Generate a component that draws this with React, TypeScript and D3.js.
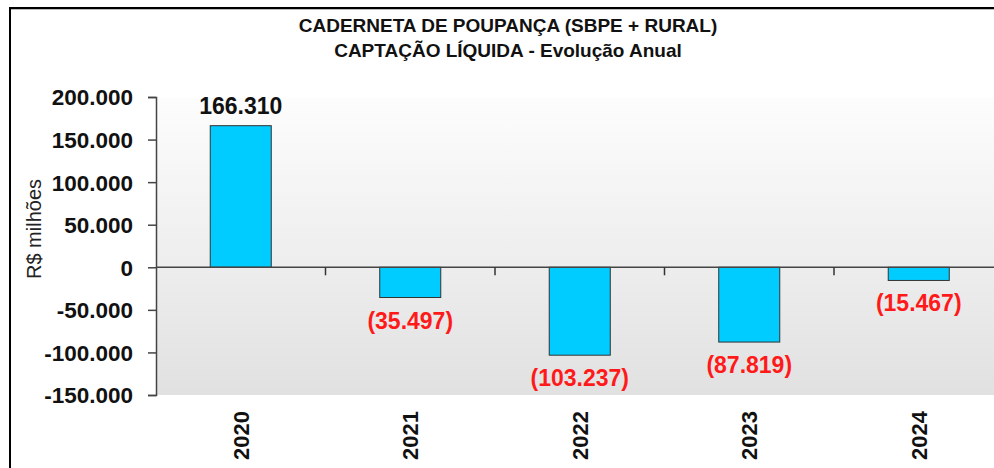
import * as d3 from "d3";
import { useEffect, useRef } from "react";

// data (R$ milhões)
const years = ["2020", "2021", "2022", "2023", "2024"];
const captacao = [166310, -35497, -103237, -87819, -15467];
const yTicks = [-150000, -100000, -50000, 0, 50000, 100000, 150000, 200000];
const titleLines = ["CADERNETA DE POUPANÇA (SBPE + RURAL)", "CAPTAÇÃO LÍQUIDA - Evolução Anual"];

const App = () => {
  const ref = useRef(null);

  useEffect(() => {
    const W = 994, H = 468;
    const left = 156, top = 97, bottom = 395;
    const step = 169.5;

    const svg = d3.select(ref.current);
    svg.selectAll("*").remove();

    const br = d3.formatLocale({ decimal: ",", thousands: ".", grouping: [3], currency: ["R$", ""], minus: "-" });
    const fmt = br.format(",.0f");

    const x = d3
      .scaleBand()
      .domain(years)
      .range([left, left + step * years.length])
      .paddingInner(0.64)
      .paddingOuter(0.32);
    const y = d3.scaleLinear().domain([-150000, 200000]).range([bottom, top]);

    svg.append("rect").attr("width", W).attr("height", H).attr("fill", "#fff");

    // background gradient of plot area
    const grad = svg
      .append("defs")
      .append("linearGradient")
      .attr("id", "bg")
      .attr("x1", 0).attr("y1", 0).attr("x2", 0).attr("y2", 1);
    grad.append("stop").attr("offset", "0%").attr("stop-color", "#fdfdfd");
    grad.append("stop").attr("offset", "100%").attr("stop-color", "#e1e1e1");
    svg
      .append("rect")
      .attr("x", left)
      .attr("y", top)
      .attr("width", W - left)
      .attr("height", bottom - top)
      .attr("fill", "url(#bg)");

    // outer frame
    svg.append("line").attr("x1", 10).attr("x2", W).attr("y1", 8).attr("y2", 8).attr("stroke", "#000").attr("stroke-width", 2);
    svg.append("line").attr("x1", 10).attr("x2", W).attr("y1", 9.5).attr("y2", 9.5).attr("stroke", "#bbb").attr("stroke-width", 1);
    svg.append("line").attr("x1", 10).attr("x2", 10).attr("y1", 7).attr("y2", H).attr("stroke", "#000").attr("stroke-width", 2);

    // title
    svg
      .append("g")
      .selectAll("text")
      .data(titleLines)
      .join("text")
      .attr("x", 508)
      .attr("y", (d, i) => 32 + i * 25)
      .attr("text-anchor", "middle")
      .attr("font-family", "'Liberation Sans', Arial, sans-serif")
      .attr("font-weight", "bold")
      .attr("font-size", 19)
      .attr("fill", "#111")
      .text((d) => d);

    // bars
    svg
      .append("g")
      .selectAll("rect")
      .data(captacao)
      .join("rect")
      .attr("x", (d, i) => x(years[i]))
      .attr("y", (d) => y(Math.max(0, d)))
      .attr("width", x.bandwidth())
      .attr("height", (d) => Math.abs(y(d) - y(0)))
      .attr("fill", "#00ccff")
      .attr("stroke", "#333")
      .attr("stroke-width", 1);

    // zero line with category ticks
    const y0 = y(0);
    svg.append("line").attr("x1", left).attr("x2", W).attr("y1", y0).attr("y2", y0).attr("stroke", "#444").attr("stroke-width", 1.5);
    svg
      .append("g")
      .selectAll("line")
      .data(years.slice(1))
      .join("line")
      .attr("x1", (d) => x(d) - x.step() * 0.32)
      .attr("x2", (d) => x(d) - x.step() * 0.32)
      .attr("y1", y0)
      .attr("y2", y0 + 8)
      .attr("stroke", "#333")
      .attr("stroke-width", 1.5);

    // y axis
    const yAxis = svg
      .append("g")
      .attr("transform", `translate(${left},0)`)
      .call(d3.axisLeft(y).tickValues(yTicks).tickSize(8).tickSizeOuter(8).tickPadding(15).tickFormat((d) => fmt(d)));
    yAxis.select(".domain").attr("stroke", "#444").attr("stroke-width", 1.5);
    yAxis.selectAll(".tick line").attr("stroke", "#444").attr("stroke-width", 1.5);
    yAxis
      .selectAll("text")
      .attr("font-family", "'Liberation Sans', Arial, sans-serif")
      .attr("font-weight", "bold")
      .attr("font-size", 22.5)
      .attr("fill", "#111")
      .attr("dy", "0.35em");

    // axis title
    svg
      .append("text")
      .attr("transform", "translate(41,229) rotate(-90)")
      .attr("text-anchor", "middle")
      .attr("font-family", "'Liberation Sans', Arial, sans-serif")
      .attr("font-size", 20)
      .attr("fill", "#222")
      .text("R$ milhões");

    // x labels
    svg
      .append("g")
      .selectAll("text")
      .data(years)
      .join("text")
      .attr("transform", (d) => `translate(${x(d) + x.bandwidth() / 2 + 8},411) rotate(-90)`)
      .attr("text-anchor", "end")
      .attr("font-family", "'Liberation Sans', Arial, sans-serif")
      .attr("font-weight", "bold")
      .attr("font-size", 22)
      .attr("fill", "#111")
      .text((d) => d);

    // value labels
    svg
      .append("g")
      .selectAll("text")
      .data(captacao)
      .join("text")
      .attr("x", (d, i) => x(years[i]) + x.bandwidth() / 2)
      .attr("y", (d) => (d >= 0 ? y(d) - 12 : y(d) + 31))
      .attr("text-anchor", "middle")
      .attr("font-family", "'Liberation Sans', Arial, sans-serif")
      .attr("font-weight", "bold")
      .attr("font-size", 23)
      .attr("fill", (d) => (d >= 0 ? "#111" : "#ff1a1a"))
      .text((d) => (d >= 0 ? fmt(d) : `(${fmt(-d)})`));
  }, []);

  return <svg ref={ref} width={994} height={468} style={{ position: "absolute", left: 0, top: 0 }} />;
};

export default App;
